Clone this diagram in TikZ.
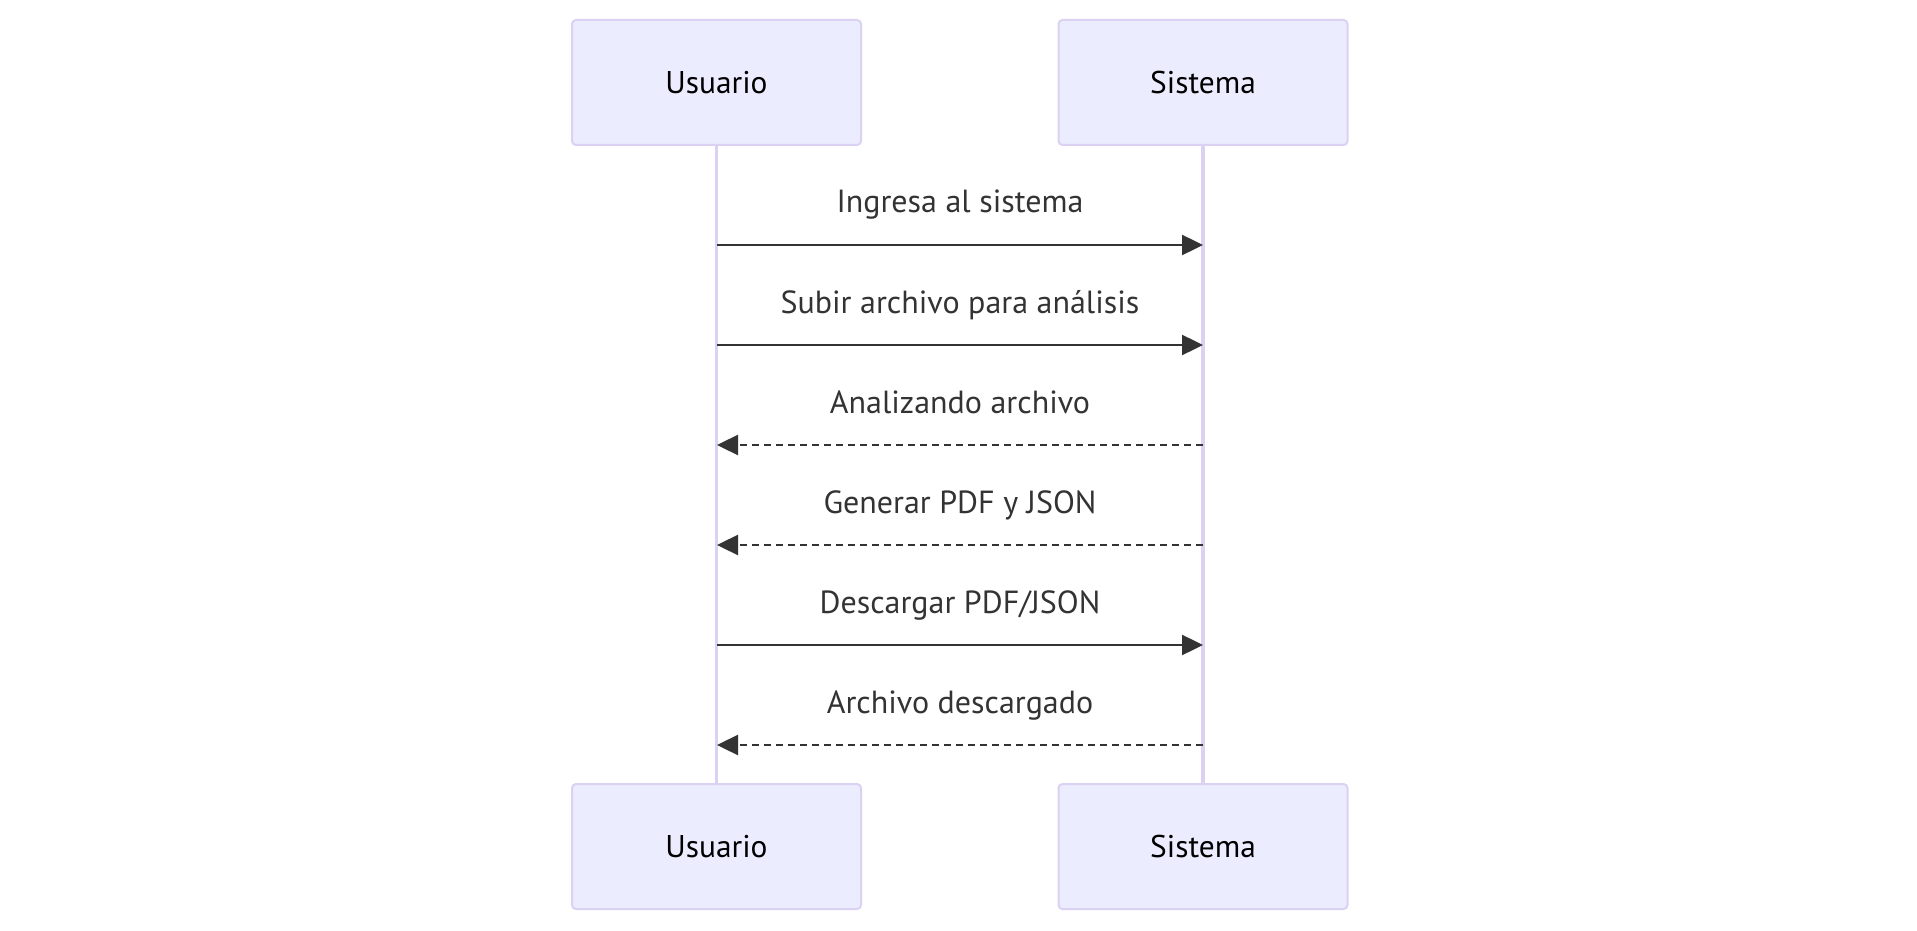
\documentclass[tikz,border=0pt]{standalone}
\usepackage{fontspec}
\setmainfont{PT Sans}
\usetikzlibrary{arrows.meta}
\definecolor{actfill}{HTML}{ECECFF}
\definecolor{actline}{HTML}{DAD1F3}
\definecolor{msgcol}{HTML}{333333}
\tikzset{
  actor/.style={draw=actline, fill=actfill, line width=1pt, rounded corners=2pt,
    minimum width=144.5pt, minimum height=62.5pt, inner sep=0pt, font=\fontsize{15.7}{18}\selectfont, text=black},
  lifeline/.style={draw=actline, line width=1.6pt},
  msg/.style={draw=msgcol, line width=1.2pt, -{Triangle[length=10.5pt,width=10pt]}},
  reply/.style={msg, dash pattern=on 3.5pt off 2.5pt},
  msglabel/.style={font=\fontsize{16}{18}\selectfont, text=msgcol, inner sep=0pt, anchor=base}
}
\begin{document}
\begin{tikzpicture}[x=0.5pt,y=-0.5pt]
\useasboundingbox (0,0) rectangle (1917,931);
\node[actor] (ut) at (716.5,82.5) {Usuario};
\node[actor] (st) at (1203,82.5) {Sistema};
\node[actor] (ub) at (716.5,846.5) {Usuario};
\node[actor] (sb) at (1203,846.5) {Sistema};
\draw[lifeline] (ut.south) -- (ub.north);
\draw[lifeline] (st.south) -- (sb.north);
% message coordinates
\foreach \i/\y in {1/245,2/345,3/445,4/545,5/645,6/745}{
  \coordinate (u\i) at (717,\y);
  \coordinate (s\i) at (1203,\y);
}
\draw[msg] (u1) -- (s1);
\draw[msg] (u2) -- (s2);
\draw[reply] (s3) -- (u3);
\draw[reply] (s4) -- (u4);
\draw[msg] (u5) -- (s5);
\draw[reply] (s6) -- (u6);
\node[msglabel] (l1) at (960,213) {Ingresa al sistema};
\node[msglabel] (l2) at (960,313) {Subir archivo para análisis};
\node[msglabel] (l3) at (960,413) {Analizando archivo};
\node[msglabel] (l4) at (960,513) {Generar PDF y JSON};
\node[msglabel] (l5) at (960,613) {Descargar PDF/JSON};
\node[msglabel] (l6) at (960,713) {Archivo descargado};
\end{tikzpicture}
\end{document}
